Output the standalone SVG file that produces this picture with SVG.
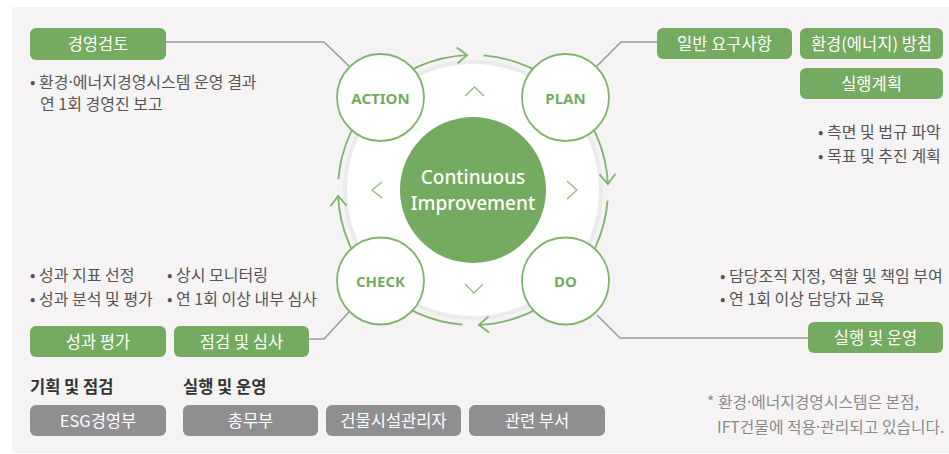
<svg xmlns="http://www.w3.org/2000/svg" width="949" height="454" viewBox="0 0 949 454">
<defs>
<style>
.gbox{fill:#74ab60}
.xbox{fill:#8f8f92}
.bt{font-family:"Noto Sans CJK KR","Noto Sans",sans-serif;font-size:16.5px;fill:#fff;text-anchor:middle}
.tx{font-family:"Noto Sans CJK KR","Noto Sans",sans-serif;font-size:16px;fill:#555}
.hd{font-family:"Noto Sans CJK KR","Noto Sans",sans-serif;font-size:16.5px;font-weight:700;fill:#333}
.fn{font-family:"Noto Sans CJK KR","Noto Sans",sans-serif;font-size:15.8px;fill:#8a8a8a}
.md{font-family:"Noto Sans",sans-serif}
.arc{fill:none;stroke:#7fb46c;stroke-width:1.8}
.con{fill:none;stroke:#9a9a9a;stroke-width:1.5}
.chev{fill:none;stroke:#8dbf7b;stroke-width:1.3}
.sc{fill:#fff;stroke:#7fb46c;stroke-width:1.8}
.sl{font-family:"Noto Sans",sans-serif;font-size:15px;font-weight:700;fill:#74ab60;text-anchor:middle}
.ci{font-family:"Noto Sans",sans-serif;font-size:19px;font-weight:500;fill:#fff;text-anchor:middle}
</style>
<marker id="ah" markerUnits="userSpaceOnUse" markerWidth="24" markerHeight="24" refX="12" refY="12" viewBox="0 0 24 24" orient="auto">
<path d="M2,4 L12,12 L2,20" fill="none" stroke="#7fb46c" stroke-width="1.8"/>
</marker>
</defs>
<rect x="12" y="7" width="937" height="446" fill="#f5f3f4"/>

<g id="ring">
<circle cx="473" cy="190" r="128" fill="#fff" stroke="#ecebec" stroke-width="4"/>
</g>

<g id="connectors">
<path class="arc" d="M377.5,94.5 A135,135 0 0 1 467.1,55.1" marker-end="url(#ah)"/>
<path class="arc" d="M483.6,55.4 A135,135 0 0 1 568.5,94.5"/>
<path class="arc" d="M568.5,94.5 A135,135 0 0 1 607.9,184.1" marker-end="url(#ah)"/>
<path class="arc" d="M607.6,200.6 A135,135 0 0 1 568.5,285.5"/>
<path class="arc" d="M568.5,285.5 A135,135 0 0 1 478.9,324.9" marker-end="url(#ah)"/>
<path class="arc" d="M462.4,324.6 A135,135 0 0 1 377.5,285.5"/>
<path class="arc" d="M377.5,285.5 A135,135 0 0 1 338.1,195.9" marker-end="url(#ah)"/>
<path class="arc" d="M338.4,179.4 A135,135 0 0 1 377.5,94.5"/>
<polyline class="con" points="166,42 324,42 349,66"/>
<polyline class="con" points="657,42 621,42 597,66"/>
<polyline class="con" points="309,339 324,339 349,312"/>
<polyline class="con" points="808,338 620,338 597,315"/>
<polyline class="chev" points="465,96 474.5,87 484,96"/>
<polyline class="chev" points="382,182 372,190 382,198"/>
<polyline class="chev" points="567,181 577,190 567,199"/>
<polyline class="chev" points="465,284 474,293 483,284"/>
</g>

<g id="center">
<circle cx="473" cy="190" r="73" fill="#74ab60"/>
<text class="ci" x="473" y="184">Continuous</text>
<text class="ci" x="473" y="210">Improvement</text>
</g>

<g id="action"><circle class="sc" cx="380.5" cy="97.5" r="43.5"/><text class="sl" x="380.5" y="104">ACTION</text></g>
<g id="plan"><circle class="sc" cx="565.5" cy="97.5" r="43.5"/><text class="sl" x="565.5" y="104">PLAN</text></g>
<g id="check"><circle class="sc" cx="380.5" cy="281" r="43.5"/><text class="sl" x="380.5" y="287">CHECK</text></g>
<g id="do"><circle class="sc" cx="565.5" cy="281" r="43.5"/><text class="sl" x="565.5" y="287">DO</text></g>

<g id="review">
<rect class="gbox" x="30" y="28" width="136" height="32" rx="6"/>
<text class="bt" x="98" y="50">경영검토</text>
<text class="tx" x="30" y="88">• 환경<tspan class="md">·</tspan>에너지경영시스템 운영 결과</text>
<text class="tx" x="40" y="110">연 1회 경영진 보고</text>
</g>

<g id="general">
<rect class="gbox" x="657" y="28" width="135" height="31" rx="6"/>
<text class="bt" x="724.5" y="49.5">일반 요구사항</text>
</g>
<g id="policy">
<rect class="gbox" x="800" y="28" width="143" height="31" rx="6"/>
<text class="bt" x="871.5" y="49.5">환경(에너지) 방침</text>
</g>
<g id="plan-box">
<rect class="gbox" x="800" y="68" width="143" height="31" rx="6"/>
<text class="bt" x="871.5" y="89.5">실행계획</text>
<text class="tx" x="818" y="138">• 측면 및 법규 파악</text>
<text class="tx" x="818" y="162">• 목표 및 추진 계획</text>
</g>

<g id="eval">
<text class="tx" x="30" y="281">• 성과 지표 선정</text>
<text class="tx" x="30" y="305">• 성과 분석 및 평가</text>
<rect class="gbox" x="30" y="326" width="136" height="31" rx="6"/>
<text class="bt" x="98" y="347.5">성과 평가</text>
</g>
<g id="audit">
<text class="tx" x="167" y="281">• 상시 모니터링</text>
<text class="tx" x="167" y="305">• 연 1회 이상 내부 심사</text>
<rect class="gbox" x="174" y="326" width="135" height="31" rx="6"/>
<text class="bt" x="241.5" y="347.5">점검 및 심사</text>
</g>

<g id="operate">
<text class="tx" x="720" y="282">• 담당조직 지정, 역할 및 책임 부여</text>
<text class="tx" x="720" y="305">• 연 1회 이상 담당자 교육</text>
<rect class="gbox" x="808" y="322" width="135" height="31" rx="6"/>
<text class="bt" x="875.5" y="343.5">실행 및 운영</text>
</g>

<g id="orgs">
<text class="hd" x="30" y="393">기획 및 점검</text>
<text class="hd" x="183" y="393">실행 및 운영</text>
<rect class="xbox" x="30" y="405" width="136" height="31" rx="6"/>
<text class="bt" x="98" y="426.5">ESG경영부</text>
<rect class="xbox" x="183" y="405" width="135" height="31" rx="6"/>
<text class="bt" x="250.5" y="426.5">총무부</text>
<rect class="xbox" x="326" y="405" width="135" height="31" rx="6"/>
<text class="bt" x="393.5" y="426.5">건물시설관리자</text>
<rect class="xbox" x="469" y="405" width="136" height="31" rx="6"/>
<text class="bt" x="537" y="426.5">관련 부서</text>
</g>

<g id="note">
<text class="fn" x="707" y="408">* 환경<tspan class="md">·</tspan>에너지경영시스템은 본점,</text>
<text class="fn" x="717" y="433">IFT건물에 적용<tspan class="md">·</tspan>관리되고 있습니다.</text>
</g>
</svg>
